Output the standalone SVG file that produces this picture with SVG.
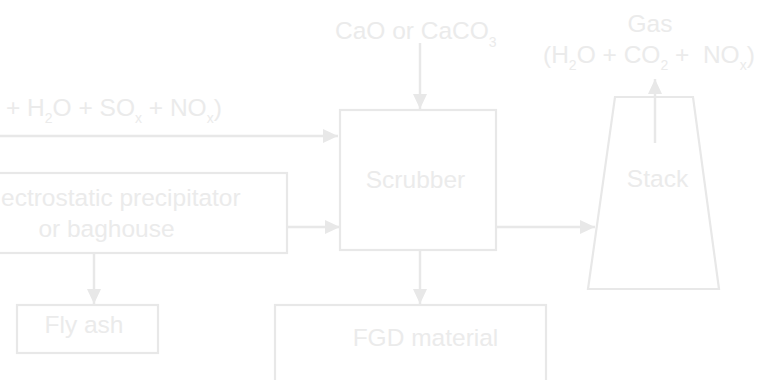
<svg xmlns="http://www.w3.org/2000/svg" width="760" height="380" viewBox="0 0 760 380">
<style>
.box{fill:none;stroke:#e8e8e8;stroke-width:2.2}
.ln{fill:none;stroke:#e8e8e8;stroke-width:2.5}
text{font-family:"Liberation Sans",Arial,sans-serif;fill:#ebebeb;white-space:pre}
.lbl{font-size:24.5px}
.ann{font-size:24.5px}
.sub{font-size:14px}
</style>
<defs>
<marker id="ah" markerUnits="userSpaceOnUse" markerWidth="16" markerHeight="15" refX="15" refY="7" orient="auto">
<path d="M0,0 L15,7 L0,14 z" fill="#e8e8e8"/>
</marker>
</defs>
<g id="connectors">
<line class="ln" x1="-5" y1="136" x2="338" y2="136" marker-end="url(#ah)"/>
<line class="ln" x1="287" y1="227" x2="340" y2="227" marker-end="url(#ah)"/>
<line class="ln" x1="94" y1="253" x2="94" y2="304" marker-end="url(#ah)"/>
<line class="ln" x1="420" y1="43" x2="420" y2="109" marker-end="url(#ah)"/>
<line class="ln" x1="420" y1="250" x2="420" y2="304" marker-end="url(#ah)"/>
<line class="ln" x1="496" y1="227" x2="595" y2="227" marker-end="url(#ah)"/>
<line class="ln" x1="655" y1="143" x2="655" y2="79" marker-end="url(#ah)"/>
</g>
<g id="flue-gas-label">
<text class="ann" x="6" y="116" xml:space="preserve">+ H<tspan class="sub" dy="7">2</tspan><tspan dy="-7">O + SO</tspan><tspan class="sub" dy="7">x</tspan><tspan dy="-7"> + NO</tspan><tspan class="sub" dy="7">x</tspan><tspan dy="-7">)</tspan></text>
</g>
<g id="esp">
<rect class="box" x="-20" y="173" width="307" height="80"/>
<text class="lbl" x="1" y="206">ectrostatic precipitator</text>
<text class="lbl" x="106.5" y="237" text-anchor="middle">or baghouse</text>
</g>
<g id="fly-ash">
<rect class="box" x="17" y="305" width="141" height="48"/>
<text class="lbl" x="84" y="333" text-anchor="middle">Fly ash</text>
</g>
<g id="lime-label">
<text class="ann" x="335" y="39">CaO or CaCO<tspan class="sub" dy="8">3</tspan></text>
</g>
<g id="scrubber">
<rect class="box" x="340" y="110" width="156" height="140"/>
<text class="lbl" x="415.5" y="188" text-anchor="middle">Scrubber</text>
</g>
<g id="fgd">
<rect class="box" x="275" y="305" width="271" height="100"/>
<text class="lbl" x="425.5" y="346" text-anchor="middle">FGD material</text>
</g>
<g id="stack">
<path class="box" d="M615,97 L693,97 L719,289 L588,289 Z"/>
<text class="lbl" x="657.5" y="187" text-anchor="middle">Stack</text>
</g>
<g id="gas-label">
<text class="ann" x="650" y="32" text-anchor="middle">Gas</text>
<text class="ann" x="543" y="63" xml:space="preserve">(H<tspan class="sub" dy="7">2</tspan><tspan dy="-7">O + CO</tspan><tspan class="sub" dy="7">2</tspan><tspan dy="-7"> +  NO</tspan><tspan class="sub" dy="7">x</tspan><tspan dy="-7">)</tspan></text>
</g>
</svg>
